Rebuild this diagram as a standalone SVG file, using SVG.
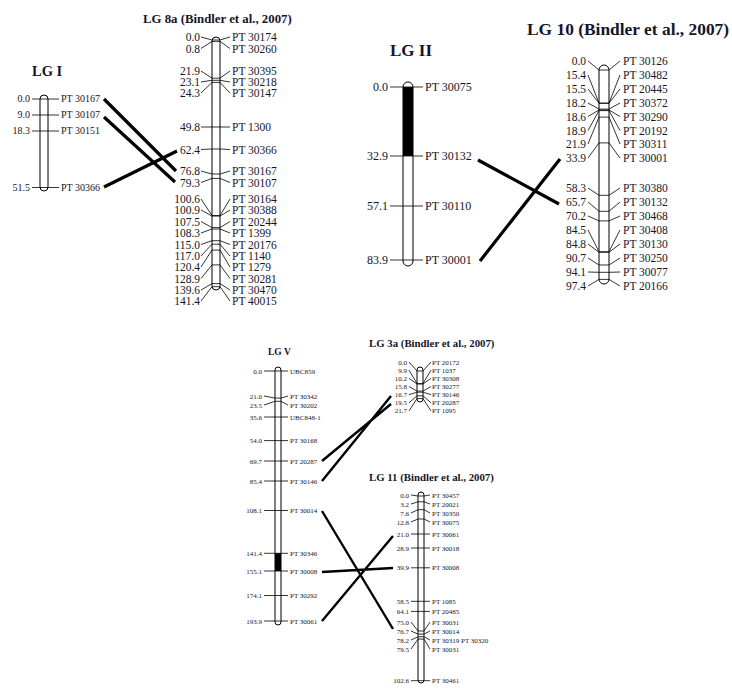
<svg xmlns="http://www.w3.org/2000/svg" width="732" height="688" viewBox="0 0 732 688">
<style>
text{font-family:"Liberation Serif","Times New Roman",serif;fill:#15152a}
.ttl{font-weight:bold}
.l{text-anchor:end}
.bar{fill:#fff;stroke:#000;stroke-width:1}
.blk{fill:#000}
.ld{fill:none;stroke:#000;stroke-width:0.8}
.cn{stroke:#000;stroke-width:3.2;fill:none}
.cn2{stroke:#000;stroke-width:2.4;fill:none}
</style>
<rect width="732" height="688" fill="#fff"/>

<g id="lg1" font-size="10">
<text class="ttl" x="32" y="76" font-size="14.5">LG I</text>
<rect class="bar" x="40" y="95" width="8" height="96" rx="4"/>
<path class="ld" d="M32,99H59M32,115H59M32,131H59M32,187.5H59"/>
<text class="l" x="30" y="102.4">0.0</text>
<text class="l" x="30" y="118.4">9.0</text>
<text class="l" x="30" y="134.4">18.3</text>
<text class="l" x="30" y="190.9">51.5</text>
<text x="61" y="102.4">PT 30167</text>
<text x="61" y="118.4">PT 30107</text>
<text x="61" y="134.4">PT 30151</text>
<text x="61" y="190.9">PT 30366</text>
</g>

<g id="lg8a" font-size="11.5">
<text class="ttl" x="143" y="23" font-size="12.8">LG 8a (Bindler et al., 2007)</text>
<rect class="bar" x="212" y="37" width="8" height="253" rx="4"/>
<path class="ld" d="M201,37L212,40H220L230,37M201,48.5L212,41.4H220L230,48.5M201,71L212,78.2H220L230,71M201,82L212,80.3H220L230,82M201,93L212,82.4H220L230,93M201,127L212,127H220L230,127M201,149.5L212,149H220L230,149.5M201,171L212,174H220L230,171M201,182.5L212,178.4H220L230,182.5M201,199L212,215.5H220L230,199M201,210L212,216.1H220L230,210M201,221.5L212,227.6H220L230,221.5M201,233L212,229H220L230,233M201,244.5L212,240.7H220L230,244.5M201,256L212,244.2H220L230,256M201,267L212,250.1H220L230,267M201,278.5L212,264.9H220L230,278.5M201,290L212,283.6H220L230,290M201,301L212,286.7H220L230,301"/>
<g class="l">
<text x="200" y="41">0.0</text>
<text x="200" y="52.5">0.8</text>
<text x="200" y="75">21.9</text>
<text x="200" y="86">23.1</text>
<text x="200" y="97">24.3</text>
<text x="200" y="131">49.8</text>
<text x="200" y="153.5">62.4</text>
<text x="200" y="175">76.8</text>
<text x="200" y="186.5">79.3</text>
<text x="200" y="203">100.6</text>
<text x="200" y="214">100.9</text>
<text x="200" y="225.5">107.5</text>
<text x="200" y="237">108.3</text>
<text x="200" y="248.5">115.0</text>
<text x="200" y="260">117.0</text>
<text x="200" y="271">120.4</text>
<text x="200" y="282.5">128.9</text>
<text x="200" y="294">139.6</text>
<text x="200" y="305">141.4</text>
</g>
<text x="232" y="41">PT 30174</text>
<text x="232" y="52.5">PT 30260</text>
<text x="232" y="75">PT 30395</text>
<text x="232" y="86">PT 30218</text>
<text x="232" y="97">PT 30147</text>
<text x="232" y="131">PT 1300</text>
<text x="232" y="153.5">PT 30366</text>
<text x="232" y="175">PT 30167</text>
<text x="232" y="186.5">PT 30107</text>
<text x="232" y="203">PT 30164</text>
<text x="232" y="214">PT 30388</text>
<text x="232" y="225.5">PT 20244</text>
<text x="232" y="237">PT 1399</text>
<text x="232" y="248.5">PT 20176</text>
<text x="232" y="260">PT 1140</text>
<text x="232" y="271">PT 1279</text>
<text x="232" y="282.5">PT 30281</text>
<text x="232" y="294">PT 30470</text>
<text x="232" y="305">PT 40015</text>
</g>

<g id="lg2" font-size="12">
<text class="ttl" x="390" y="56" font-size="17">LG II</text>
<rect class="bar" x="403" y="82" width="10" height="184" rx="5"/>
<rect class="blk" x="403" y="87" width="10" height="69"/>
<path class="ld" d="M390,87H423M390,156H423M390,206H423M390,260H423"/>
<text class="l" x="388" y="91.2">0.0</text>
<text class="l" x="388" y="160.2">32.9</text>
<text class="l" x="388" y="210.2">57.1</text>
<text class="l" x="388" y="264.2">83.9</text>
<text x="425" y="91.2">PT 30075</text>
<text x="425" y="160.2">PT 30132</text>
<text x="425" y="210.2">PT 30110</text>
<text x="425" y="264.2">PT 30001</text>
</g>

<g id="lg10" font-size="11.5">
<text class="ttl" x="527" y="35" font-size="17.4">LG 10 (Bindler et al., 2007)</text>
<rect class="bar" x="599" y="65" width="10" height="219" rx="5"/>
<path class="ld" d="M588,61L599,70H609L620,61M588,75L599,103.1H609L620,75M588,89L599,103.3H609L620,89M588,103L599,109.1H609L620,103M588,116.5L599,110H609L620,116.5M588,130.5L599,110.6H609L620,130.5M588,144L599,117.1H609L620,144M588,158L599,142.9H609L620,158M588,188L599,195.3H609L620,188M588,202L599,211.3H609L620,202M588,216L599,220.9H609L620,216M588,230L599,251.7H609L620,230M588,244L599,252.3H609L620,244M588,258L599,265H609L620,258M588,272L599,272.3H609L620,272M588,286L599,279.4H609L620,286"/>
<g class="l">
<text x="586" y="65">0.0</text>
<text x="586" y="79">15.4</text>
<text x="586" y="93">15.5</text>
<text x="586" y="107">18.2</text>
<text x="586" y="120.5">18.6</text>
<text x="586" y="134.5">18.9</text>
<text x="586" y="148">21.9</text>
<text x="586" y="162">33.9</text>
<text x="586" y="192">58.3</text>
<text x="586" y="206">65.7</text>
<text x="586" y="220">70.2</text>
<text x="586" y="234">84.5</text>
<text x="586" y="248">84.8</text>
<text x="586" y="262">90.7</text>
<text x="586" y="276">94.1</text>
<text x="586" y="290">97.4</text>
</g>
<text x="623" y="65">PT 30126</text>
<text x="623" y="79">PT 30482</text>
<text x="623" y="93">PT 20445</text>
<text x="623" y="107">PT 30372</text>
<text x="623" y="120.5">PT 30290</text>
<text x="623" y="134.5">PT 20192</text>
<text x="623" y="148">PT 30311</text>
<text x="623" y="162">PT 30001</text>
<text x="623" y="192">PT 30380</text>
<text x="623" y="206">PT 30132</text>
<text x="623" y="220">PT 30468</text>
<text x="623" y="234">PT 30408</text>
<text x="623" y="248">PT 30130</text>
<text x="623" y="262">PT 30250</text>
<text x="623" y="276">PT 30077</text>
<text x="623" y="290">PT 20166</text>
</g>

<g id="lgV" font-size="7">
<text class="ttl" x="268" y="354.5" font-size="9.5">LG V</text>
<rect class="bar" x="275" y="367" width="6" height="258" rx="3"/>
<rect class="blk" x="275" y="553.3" width="6" height="17.7"/>
<path class="ld" d="M264,371L275,371H281L288,371M264,396L275,398.1H281L288,396M264,405L275,401.3H281L288,405M264,417H288M264,440.6H288M264,461H288M264,481H288M264,510.5H288M264,553.3H288M264,571H288M264,595.5H288M264,621H288"/>
<g class="l">
<text x="262" y="373.5">0.0</text>
<text x="262" y="398.5">21.0</text>
<text x="262" y="407.5">23.5</text>
<text x="262" y="419.5">35.6</text>
<text x="262" y="443.1">54.0</text>
<text x="262" y="463.5">69.7</text>
<text x="262" y="483.5">85.4</text>
<text x="262" y="513">108.1</text>
<text x="262" y="555.8">141.4</text>
<text x="262" y="573.5">155.1</text>
<text x="262" y="598">174.1</text>
<text x="262" y="623.5">193.9</text>
</g>
<text x="290" y="373.5">UBC859</text>
<text x="290" y="398.5">PT 30342</text>
<text x="290" y="407.5">PT 30202</text>
<text x="290" y="419.5">UBC848-1</text>
<text x="290" y="443.1">PT 30168</text>
<text x="290" y="463.5">PT 20287</text>
<text x="290" y="483.5">PT 30146</text>
<text x="290" y="513">PT 30014</text>
<text x="290" y="555.8">PT 30346</text>
<text x="290" y="573.5">PT 30008</text>
<text x="290" y="598">PT 30292</text>
<text x="290" y="623.5">PT 30061</text>
</g>

<g id="lg3a" font-size="7">
<text class="ttl" x="369" y="347" font-size="10.8">LG 3a (Bindler et al., 2007)</text>
<rect class="bar" x="417" y="367" width="6" height="35" rx="3"/>
<path class="ld" d="M409,362L417,371H423L431,362M409,370.2L417,383.6H423L431,370.2M409,378.3L417,384H423L431,378.3M409,386.5L417,391.1H423L431,386.5M409,394.6L417,392.2H423L431,394.6M409,402.8L417,395.8H423L431,402.8M409,410.9L417,398.6H423L431,410.9"/>
<g class="l">
<text x="407" y="364.5">0.0</text>
<text x="407" y="372.7">9.9</text>
<text x="407" y="380.8">10.2</text>
<text x="407" y="389">15.8</text>
<text x="407" y="397.1">16.7</text>
<text x="407" y="405.3">19.5</text>
<text x="407" y="413.4">21.7</text>
</g>
<text x="432" y="364.5">PT 20172</text>
<text x="432" y="372.7">PT 1037</text>
<text x="432" y="380.8">PT 30308</text>
<text x="432" y="389">PT 30277</text>
<text x="432" y="397.1">PT 30146</text>
<text x="432" y="405.3">PT 20287</text>
<text x="432" y="413.4">PT 1095</text>
</g>

<g id="lg11" font-size="7">
<text class="ttl" x="369" y="480.5" font-size="10.8">LG 11 (Bindler et al., 2007)</text>
<rect class="bar" x="418" y="492" width="6" height="191" rx="3"/>
<path class="ld" d="M411,495L418,496H424L430,495M411,504L418,501.8H424L430,504M411,513L418,509.7H424L430,513M411,522L418,519H424L430,522M411,534H430M411,548H430M411,567.8H430M411,601.3H430M411,611.4H430M411,622L418,631H424L430,622M411,631L418,634.1H424L430,631M411,640L418,636.8H424L430,640M411,649L418,639.1H424L430,649M411,680.7H430"/>
<g class="l">
<text x="409" y="497.5">0.0</text>
<text x="409" y="506.5">3.2</text>
<text x="409" y="515.5">7.6</text>
<text x="409" y="524.5">12.8</text>
<text x="409" y="536.5">21.0</text>
<text x="409" y="550.5">28.9</text>
<text x="409" y="570.3">39.9</text>
<text x="409" y="603.8">58.5</text>
<text x="409" y="613.9">64.1</text>
<text x="409" y="624.5">75.0</text>
<text x="409" y="633.5">76.7</text>
<text x="409" y="642.5">78.2</text>
<text x="409" y="651.5">79.5</text>
<text x="409" y="683.2">102.6</text>
</g>
<text x="432" y="497.5">PT 30457</text>
<text x="432" y="506.5">PT 20021</text>
<text x="432" y="515.5">PT 30350</text>
<text x="432" y="524.5">PT 30075</text>
<text x="432" y="536.5">PT 30061</text>
<text x="432" y="550.5">PT 30018</text>
<text x="432" y="570.3">PT 30008</text>
<text x="432" y="603.8">PT 1085</text>
<text x="432" y="613.9">PT 20485</text>
<text x="432" y="624.5">PT 30031</text>
<text x="432" y="633.5">PT 30014</text>
<text x="432" y="642.5">PT 30319 PT 30320</text>
<text x="432" y="651.5">PT 30031</text>
<text x="432" y="683.2">PT 30461</text>
</g>

<g id="connectors">
<path class="cn" d="M104,99L176,171M104,117L175,182M104,187L177,151"/>
<path class="cn" d="M478,160L559,204M480,261L560,159"/>
<path class="cn2" d="M322,461L391,404M322,481L391,396"/>
<path class="cn2" d="M322,511L393,629M322,572L393,568M322,621L393,536"/>
</g>
</svg>
